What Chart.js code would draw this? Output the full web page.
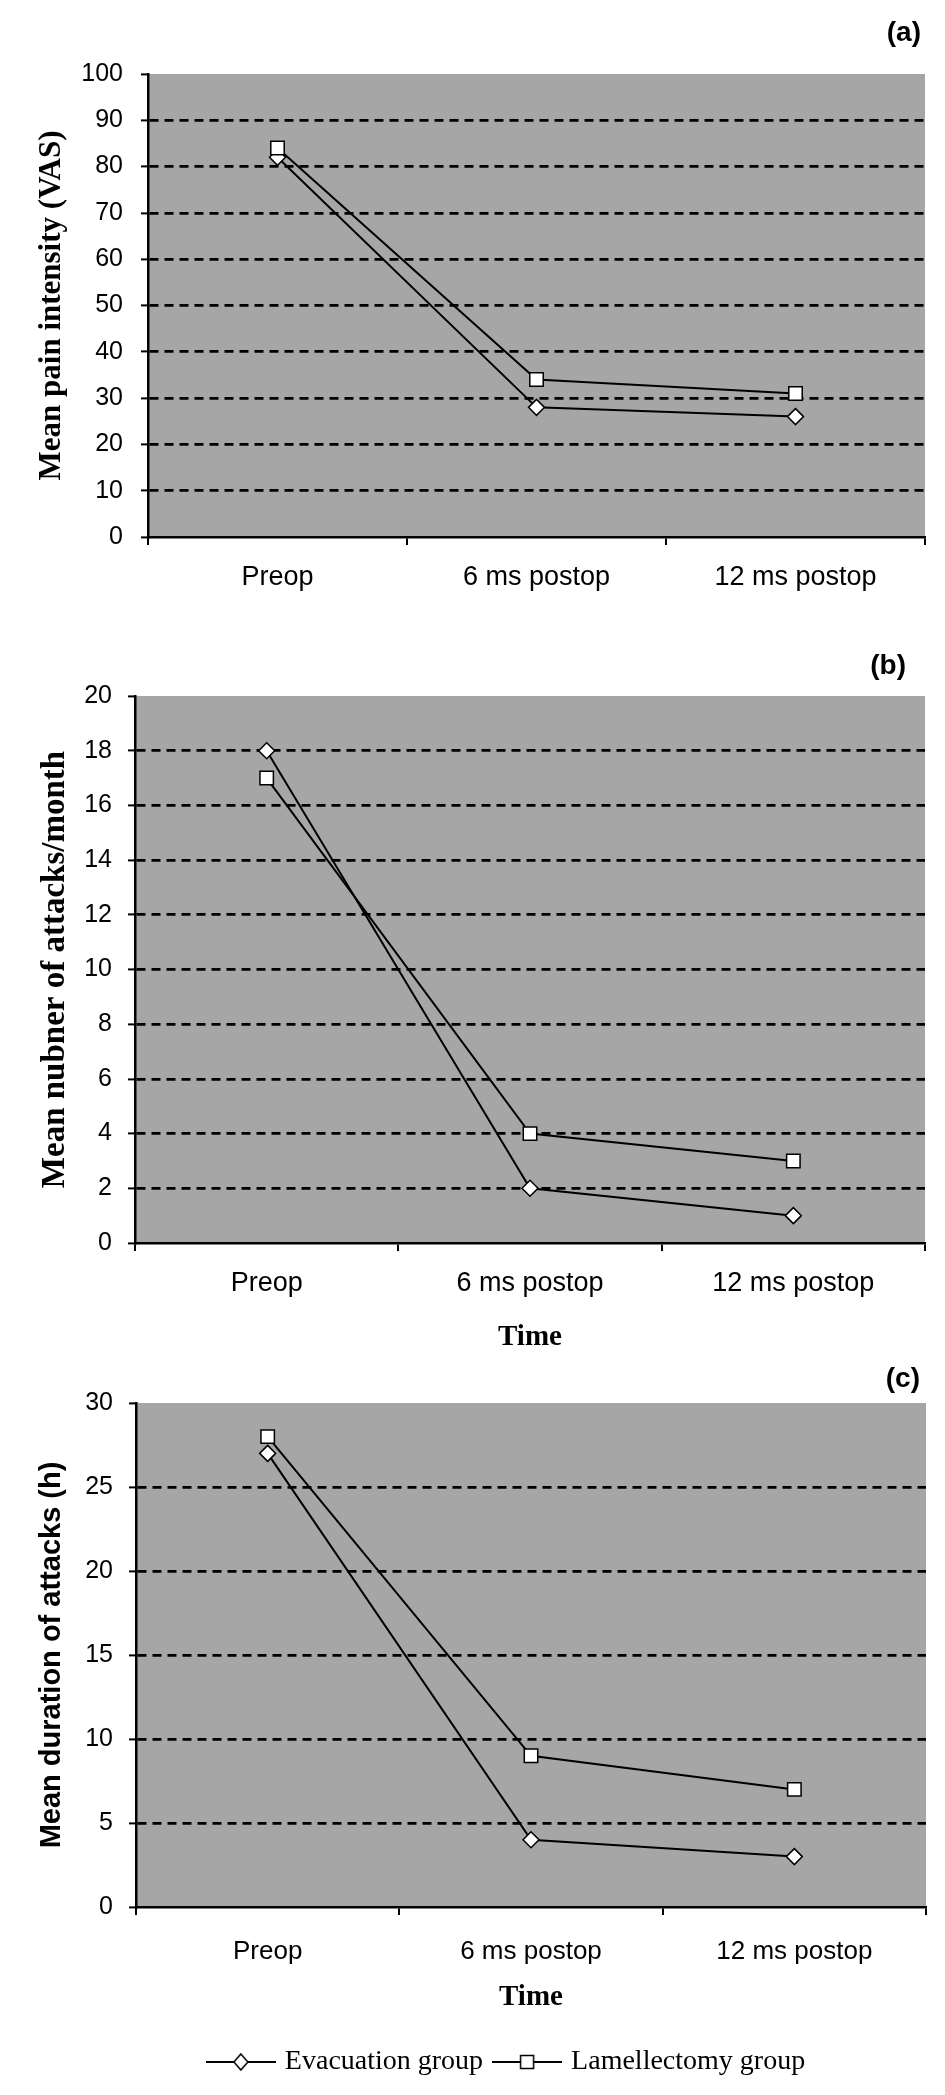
<!DOCTYPE html>
<html><head><meta charset="utf-8">
<script src="https://cdn.jsdelivr.net/npm/chart.js@4.4.0/dist/chart.umd.min.js"></script>
<style>
html,body{margin:0;padding:0;background:#fff;}
body{width:945px;height:2095px;position:relative;overflow:hidden;}
canvas{position:absolute;left:0;}
</style></head><body>
<canvas id="ca" width="945" height="620" style="top:0px"></canvas>
<canvas id="cb" width="945" height="740" style="top:620px"></canvas>
<canvas id="cc" width="945" height="735" style="top:1360px"></canvas>
<script>
// ---- data ----
const categories = ['Preop', '6 ms postop', '12 ms postop'];
const seriesNames = ['Evacuation group', 'Lamellectomy group'];
const painEvacuation = [82, 28, 26];
const painLamellectomy = [84, 34, 31];
const attacksEvacuation = [18, 2, 1];
const attacksLamellectomy = [17, 4, 3];
const durationEvacuation = [27, 4, 3];
const durationLamellectomy = [28, 9, 7];
const panelLabels = ['(a)', '(b)', '(c)'];
const yTitles = ['Mean pain intensity (VAS)', 'Mean nubner of attacks/month', 'Mean duration of attacks (h)'];
const xTitle = 'Time';
const yMaxes = [100, 20, 30];
const ySteps = [10, 2, 5];

Chart.defaults.font.family = "'Liberation Sans', Arial, sans-serif";
Chart.defaults.color = '#000';

const SERIF = "'Liberation Serif', 'Times New Roman', serif";
const SANS = "'Liberation Sans', Arial, sans-serif";

const plotBg = {
  id: 'plotBg',
  beforeDraw(chart) {
    const {ctx, chartArea: a} = chart;
    ctx.save();
    ctx.fillStyle = '#a6a6a6';
    ctx.fillRect(a.left, a.top, a.right - a.left, a.bottom - a.top);
    ctx.restore();
  }
};

// nudges the panel label and legend boxes horizontally after layout
const boxShift = {
  id: 'boxShift',
  afterLayout(chart, args, opts) {
    if (opts.titleRight && chart.titleBlock) chart.titleBlock.right = opts.titleRight;
    if (opts.legendLeft && chart.legend) chart.legend.left = opts.legendLeft;
  }
};

function legendIcon(style) {
  const c = document.createElement('canvas');
  c.width = 70; c.height = 20;
  const g = c.getContext('2d');
  g.strokeStyle = '#000'; g.lineWidth = 2;
  g.beginPath(); g.moveTo(0, 10); g.lineTo(70, 10); g.stroke();
  g.fillStyle = '#fff'; g.lineWidth = 1.5;
  g.beginPath();
  if (style === 'rectRot') { g.moveTo(35, 2); g.lineTo(42, 10); g.lineTo(35, 18); g.lineTo(28, 10); g.closePath(); }
  else { g.rect(28.5, 3.5, 13, 13); }
  g.fill(); g.stroke();
  return c;
}
const legendIcons = [legendIcon('rectRot'), legendIcon('rect')];

function makeChart(id, evac, lam, idx, geo) {
  const yMax = yMaxes[idx];
  return new Chart(document.getElementById(id), {
    type: 'line',
    data: {
      labels: categories,
      datasets: [
        { label: seriesNames[0], data: evac, borderColor: '#000', borderWidth: 2, tension: 0,
          pointStyle: 'rectRot', pointRadius: 8, pointBackgroundColor: '#fff', pointBorderColor: '#000',
          pointBorderWidth: 1.5, order: 1 },
        { label: seriesNames[1], data: lam, borderColor: '#000', borderWidth: 2, tension: 0,
          pointStyle: 'rect', pointRadius: 9.5, pointBackgroundColor: '#fff', pointBorderColor: '#000',
          pointBorderWidth: 1.5, order: 0 }
      ]
    },
    options: {
      responsive: false, animation: false, devicePixelRatio: 1, events: [],
      layout: { padding: geo.layoutPadding },
      plugins: {
        tooltip: { enabled: false },
        boxShift: { titleRight: geo.titleRight, legendLeft: geo.legendLeft },
        title: { display: true, text: panelLabels[idx], align: 'end', color: '#000',
          font: { family: SANS, size: 28, weight: 'bold' }, padding: geo.titlePad },
        legend: geo.legend ? {
          display: true, position: 'bottom', align: 'center',
          labels: { usePointStyle: true, pointStyleWidth: 60, padding: 14, color: '#000',
            font: { family: SERIF, size: 28 },
            generateLabels: (chart) => chart.data.datasets.map((ds, i) => ({
              text: ds.label, pointStyle: legendIcons[i], fillStyle: '#fff', strokeStyle: '#000',
              lineWidth: 0, hidden: false, datasetIndex: i }))
          }
        } : { display: false }
      },
      scales: {
        x: {
          offset: true,
          ticks: { padding: geo.xTickPad, font: { size: geo.xTickSize }, color: '#000', maxRotation: 0, autoSkip: false },
          grid: { offset: true, drawOnChartArea: false, drawTicks: true, tickLength: 8, tickWidth: 2,
            tickColor: '#000', color: '#000', lineWidth: 2 },
          border: { color: '#000', width: 2.5 },
          title: geo.showTime ? { display: true, text: xTitle, color: '#000',
            font: { family: SERIF, size: 29, weight: 'bold' }, padding: { top: 0, bottom: geo.timePad } } : { display: false },
          afterFit: (s) => { s.height = geo.xHeight; }
        },
        y: {
          min: 0, max: yMax,
          ticks: { stepSize: ySteps[idx], padding: geo.yTickPad, font: { size: 25 }, color: '#000' },
          grid: {
            color: (c) => (c.tick && (c.tick.value === 0 || c.tick.value === yMax)) ? 'rgba(0,0,0,0)' : '#000',
            lineWidth: 2.8, drawTicks: true, tickLength: 7, tickWidth: 2, tickColor: '#000'
          },
          border: { color: '#000', width: 2.5, dash: [9, 6] },
          title: { display: true, text: yTitles[idx], color: '#000', font: geo.yTitleFont,
            padding: { top: geo.yTitlePad, bottom: 0 } },
          afterFit: (s) => { s.width = geo.yWidth; }
        }
      }
    },
    plugins: [plotBg, boxShift]
  });
}

makeChart('ca', painEvacuation, painLamellectomy, 0, {
  layoutPadding: { left: 0, right: 20, top: 0, bottom: 0 },
  titlePad: { top: 16, bottom: 24.4 }, titleRight: 921,
  yWidth: 148, yTickPad: 18,
  yTitleFont: { family: SERIF, size: 31, weight: 'bold' }, yTitlePad: 33.4,
  xHeight: 83, xTickPad: 16, xTickSize: 27, showTime: false, legend: false
});

makeChart('cb', attacksEvacuation, attacksLamellectomy, 1, {
  layoutPadding: { left: 0, right: 20, top: 0, bottom: 0 },
  titlePad: { top: 29.2, bottom: 13.2 }, titleRight: 906,
  yWidth: 135, yTickPad: 16,
  yTitleFont: { family: SERIF, size: 33, weight: 'bold' }, yTitlePad: 35.2,
  xHeight: 117, xTickPad: 16, xTickSize: 27, showTime: true, timePad: 4.6, legend: false
});

makeChart('cc', durationEvacuation, durationLamellectomy, 2, {
  layoutPadding: { left: 0, right: 19, top: 0, bottom: 9 },
  titlePad: { top: 2.2, bottom: 7.2 }, titleRight: 920,
  yWidth: 136, yTickPad: 16,
  yTitleFont: { family: SANS, size: 29, weight: 'bold' }, yTitlePad: 34.6,
  xHeight: 127, xTickPad: 21.4, xTickSize: 26, showTime: true, timePad: 18.6, legend: true,
  legendLeft: 90
});
</script>
</body></html>
